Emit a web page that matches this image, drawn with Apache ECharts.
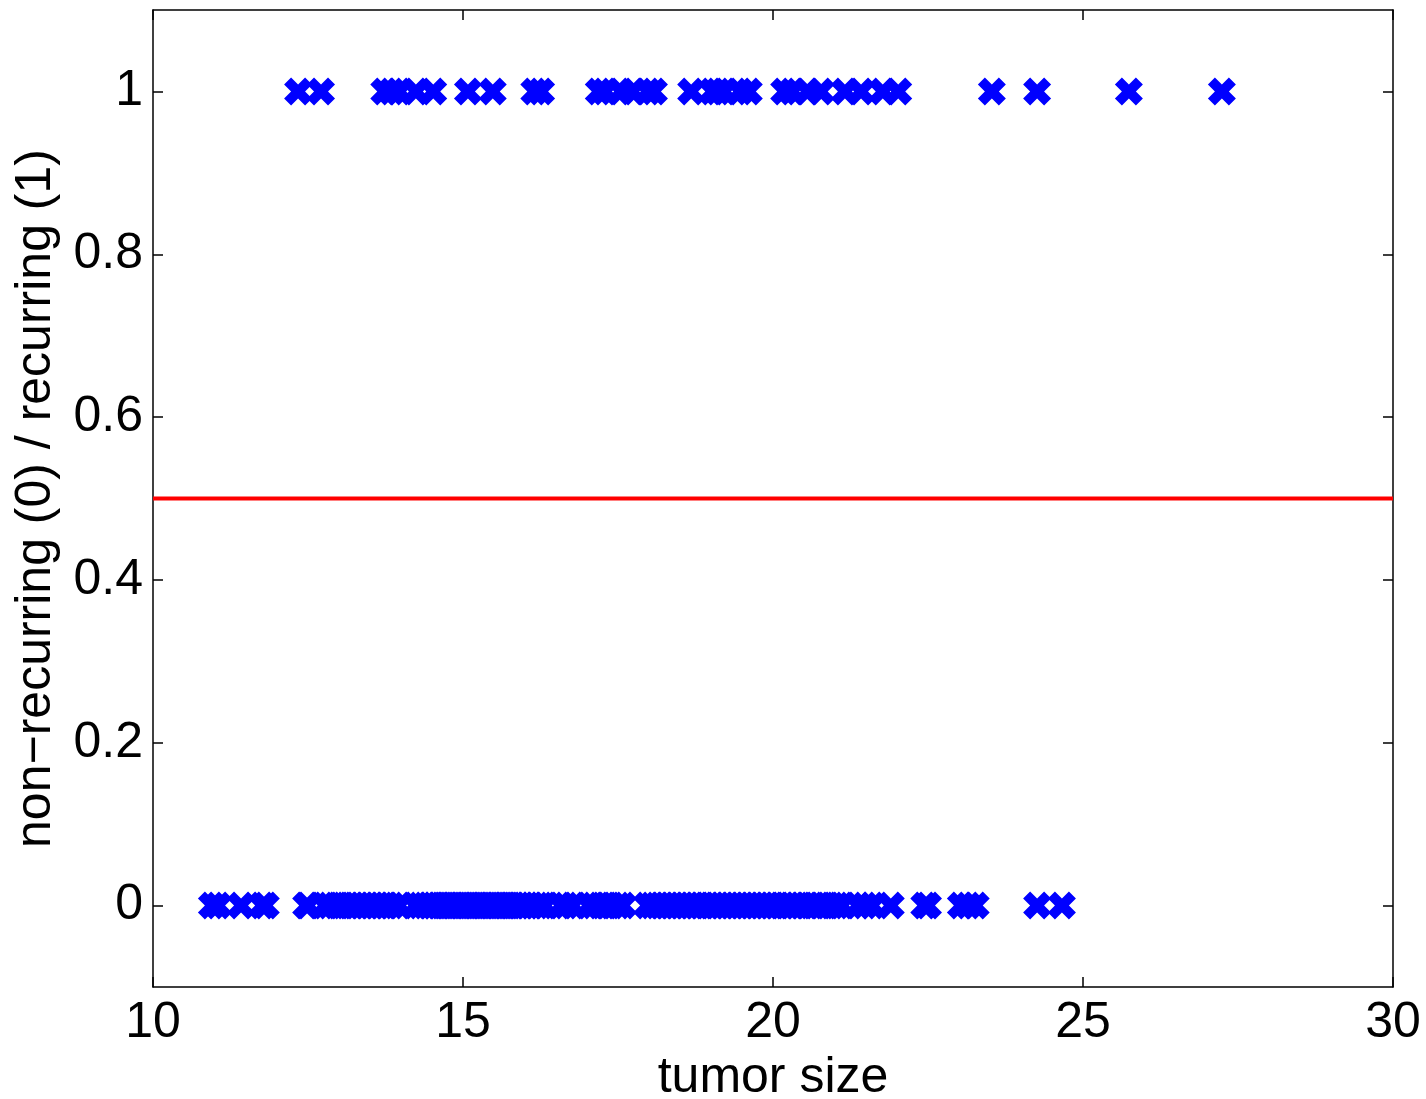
<!DOCTYPE html>
<html>
<head>
<meta charset="utf-8">
<script src="https://cdn.jsdelivr.net/npm/echarts@6/dist/echarts.min.js"></script>
<style>
html,body{margin:0;padding:0;background:#fff;}
#chart{width:1426px;height:1099px;}
</style>
</head>
<body>
<div id="chart"></div>
<script>
// tumor size values of recurring cases (y = 1)
const recurringSizes = [12.34, 12.71, 13.73, 13.85, 13.97, 14.24, 14.52, 15.08, 15.48, 16.15, 16.26,
  17.19, 17.29, 17.55, 17.73, 17.98, 18.08, 18.68, 19.02, 19.11, 19.21, 19.47, 19.61,
  20.18, 20.31, 20.56, 20.77, 21.16, 21.42, 21.77, 22.02, 23.53, 24.26, 25.74, 27.24];
// tumor size values of non-recurring cases (y = 0)
const nonRecurringSizes = [10.95, 11.05, 11.42, 11.76, 11.82,
  12.47, 12.50, 12.77, 12.85, 12.95, 13.03, 13.13, 13.21, 13.29, 13.37, 13.45, 13.53, 13.61, 13.69, 13.77, 13.85, 13.97,
  14.23, 14.31, 14.39, 14.47, 14.53, 14.60, 14.66, 14.73, 14.79, 14.85, 14.92, 14.98, 15.05, 15.11, 15.18, 15.24,
  15.31, 15.37, 15.44, 15.50, 15.56, 15.63, 15.69, 15.76, 15.82, 15.89, 15.95, 16.03, 16.11, 16.19, 16.26, 16.32,
  16.58, 16.66, 16.77, 17.03, 17.11, 17.21, 17.31, 17.40, 17.50, 17.58,
  17.97, 18.05, 18.13, 18.21, 18.29, 18.37, 18.45, 18.53, 18.61, 18.69, 18.77, 18.85, 18.94, 19.02, 19.10, 19.18,
  19.26, 19.34, 19.42, 19.50, 19.58, 19.66, 19.74, 19.82, 19.90, 19.98, 20.06, 20.15, 20.23, 20.31, 20.39, 20.47,
  20.56, 20.66, 20.76, 20.85, 20.95, 21.03, 21.11, 21.37, 21.48, 21.60, 21.90,
  22.44, 22.50, 23.03, 23.15, 23.27, 24.26, 24.66];
const threshold = 0.5;
const xTicks = [10, 15, 20, 25, 30];
const yTicks = [0, 0.2, 0.4, 0.6, 0.8, 1];

const FONT = 'Liberation Sans, Arial, sans-serif';
const XMARK = 'path://M0,2.5 L2.5,0 L5,2.5 L7.5,0 L10,2.5 L7.5,5 L10,7.5 L7.5,10 L5,7.5 L2.5,10 L0,7.5 L2.5,5 Z';

const chart = echarts.init(document.getElementById('chart'));
const tickCommon = {show: true, inside: true, length: 10, lineStyle: {color: '#000', width: 1.5}};
const lineCommon = {show: true, onZero: false, lineStyle: {color: '#000', width: 1.5}};

chart.setOption({
  animation: false,
  backgroundColor: '#fff',
  grid: {left: 153, right: 33, top: 10, bottom: 112, outerBoundsMode: 'none', containLabel: false},
  xAxis: [{
    type: 'value', min: 10, max: 30, interval: 5, position: 'bottom',
    axisLine: lineCommon, axisTick: tickCommon, splitLine: {show: false},
    axisLabel: {color: '#000', fontFamily: FONT, fontSize: 50, margin: 11,
      customValues: xTicks},
    name: 'tumor size', nameLocation: 'middle', nameGap: 56,
    nameTextStyle: {color: '#000', fontFamily: FONT, fontSize: 50}
  }, {
    type: 'value', min: 10, max: 30, interval: 5, position: 'top',
    axisLine: lineCommon, axisTick: tickCommon, axisLabel: {show: false}, splitLine: {show: false}
  }],
  yAxis: [{
    type: 'value', min: -0.1, max: 1.1, position: 'left',
    axisLine: lineCommon,
    axisTick: Object.assign({}, tickCommon, {customValues: yTicks}),
    splitLine: {show: false},
    axisLabel: {color: '#000', fontFamily: FONT, fontSize: 50, margin: 10,
      customValues: yTicks, formatter: v => String(+v.toFixed(1))},
    name: 'non\u2212recurring (0) / recurring (1)', nameLocation: 'middle', nameGap: 92,
    nameTextStyle: {color: '#000', fontFamily: FONT, fontSize: 50}
  }, {
    type: 'value', min: -0.1, max: 1.1, position: 'right',
    axisLine: lineCommon,
    axisTick: Object.assign({}, tickCommon, {customValues: yTicks}),
    axisLabel: {show: false}, splitLine: {show: false}
  }],
  series: [{
    type: 'scatter', symbol: XMARK, symbolSize: 28,
    itemStyle: {color: '#0000ff', opacity: 1},
    data: recurringSizes.map(v => [v, 1])
  }, {
    type: 'scatter', symbol: XMARK, symbolSize: 28,
    itemStyle: {color: '#0000ff', opacity: 1},
    data: nonRecurringSizes.map(v => [v, 0])
  }, {
    type: 'line', symbol: 'none',
    lineStyle: {color: '#ff0000', width: 4},
    data: [[10, threshold], [30, threshold]]
  }]
});
</script>
</body>
</html>
